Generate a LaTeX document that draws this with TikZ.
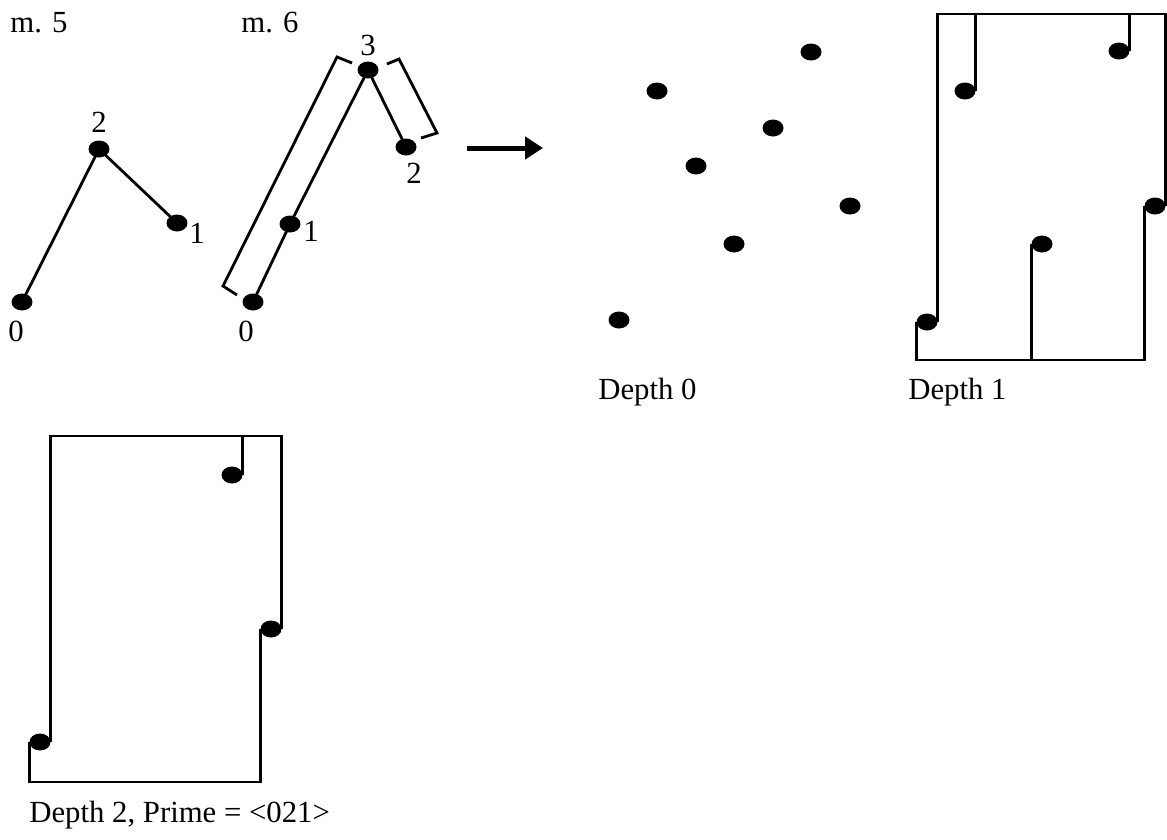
\documentclass[tikz,border=0pt]{standalone}
\usepackage{fontspec}
\setmainfont{Liberation Serif}
\usetikzlibrary{shapes.geometric, arrows.meta}
\tikzset{
  dot/.style={ellipse, fill=black, inner sep=0pt, minimum width=0.42cm, minimum height=0.34cm},
  contour/.style={line width=0.056cm},
  lbl/.style={anchor=base, inner sep=0pt},
  caption/.style={anchor=base west, inner sep=0pt},
}
\begin{document}
\begin{tikzpicture}[x=0.02cm, y=-0.02cm, font=\fontsize{17.5}{20}\selectfont]
  \useasboundingbox (0,0) rectangle (1167,839);

  % m. 5
  \node[caption] (m5) at (10,32) {m. 5};
  \node[dot] (a0) at (22,302) {};
  \node[dot] (a2) at (99,149) {};
  \node[dot] (a1) at (177,223) {};
  \draw[contour] (a0.center) -- (a2.center) -- (a1.center);
  \node[lbl] at (16,341) {0};
  \node[lbl] at (99,132) {2};
  \node[lbl] at (197,243) {1};

  % m. 6, with its two brackets
  \node[caption] (m6) at (241,32) {m. 6};
  \node[dot] (b0) at (253,302) {};
  \node[dot] (b1) at (290,224) {};
  \node[dot] (b3) at (368,70) {};
  \node[dot] (b2) at (406,147) {};
  \draw[contour] (b0.center) -- (b1.center) -- (b3.center) -- (b2.center);
  \node[lbl] at (246,341) {0};
  \node[lbl] at (311,241) {1};
  \node[lbl] at (368,55) {3};
  \node[lbl] at (414,183) {2};
  \draw[contour] (352,63) -- (337,57) -- (223,286) -- (237,295);
  \draw[contour] (387,64) -- (399,59) -- (437,133) -- (421,138);

  \coordinate (arrS) at (467,148);
  \coordinate (arrE) at (543,148);
  \draw[line width=0.1cm, -{Triangle[length=0.36cm, width=0.44cm]}] (arrS) -- (arrE);

  % Depth 0
  \node[dot] (c1) at (657,91) {};
  \node[dot] (c2) at (811,52) {};
  \node[dot] (c3) at (773,128) {};
  \node[dot] (c4) at (696,166) {};
  \node[dot] (c5) at (850,206) {};
  \node[dot] (c6) at (734,244) {};
  \node[dot] (c7) at (619,320) {};
  \node[caption] at (598,399) {Depth 0};

  % Depth 1
  \node[dot] (p1) at (965,91) {};
  \node[dot] (p2) at (1119,51) {};
  \node[dot] (p3) at (1155,206) {};
  \node[dot] (p4) at (1042,244) {};
  \node[dot] (p5) at (927,322) {};
  \draw[contour] (p5.west) -- (p5.west |- 0,360) -| (p3.west);
  \draw[contour] (p3.east) |- (p5.east |- 0,14) -- (p5.east);
  \draw[contour] (p1.east) -- (p1.east |- 0,14);
  \draw[contour] (p2.east) -- (p2.east |- 0,14);
  \draw[contour] (p4.west) -- (p4.west |- 0,360);
  \node[caption] at (908,399) {Depth 1};

  % Depth 2
  \node[dot] (q1) at (232,475) {};
  \node[dot] (q2) at (271,629) {};
  \node[dot] (q3) at (40,742) {};
  \draw[contour] (q3.west) -- (q3.west |- 0,782) -| (q2.west);
  \draw[contour] (q2.east) |- (q3.east |- 0,436) -- (q3.east);
  \draw[contour] (q1.east) -- (q1.east |- 0,436);
  \node[caption] at (29,822) {Depth 2, Prime = <021>};
\end{tikzpicture}
\end{document}
